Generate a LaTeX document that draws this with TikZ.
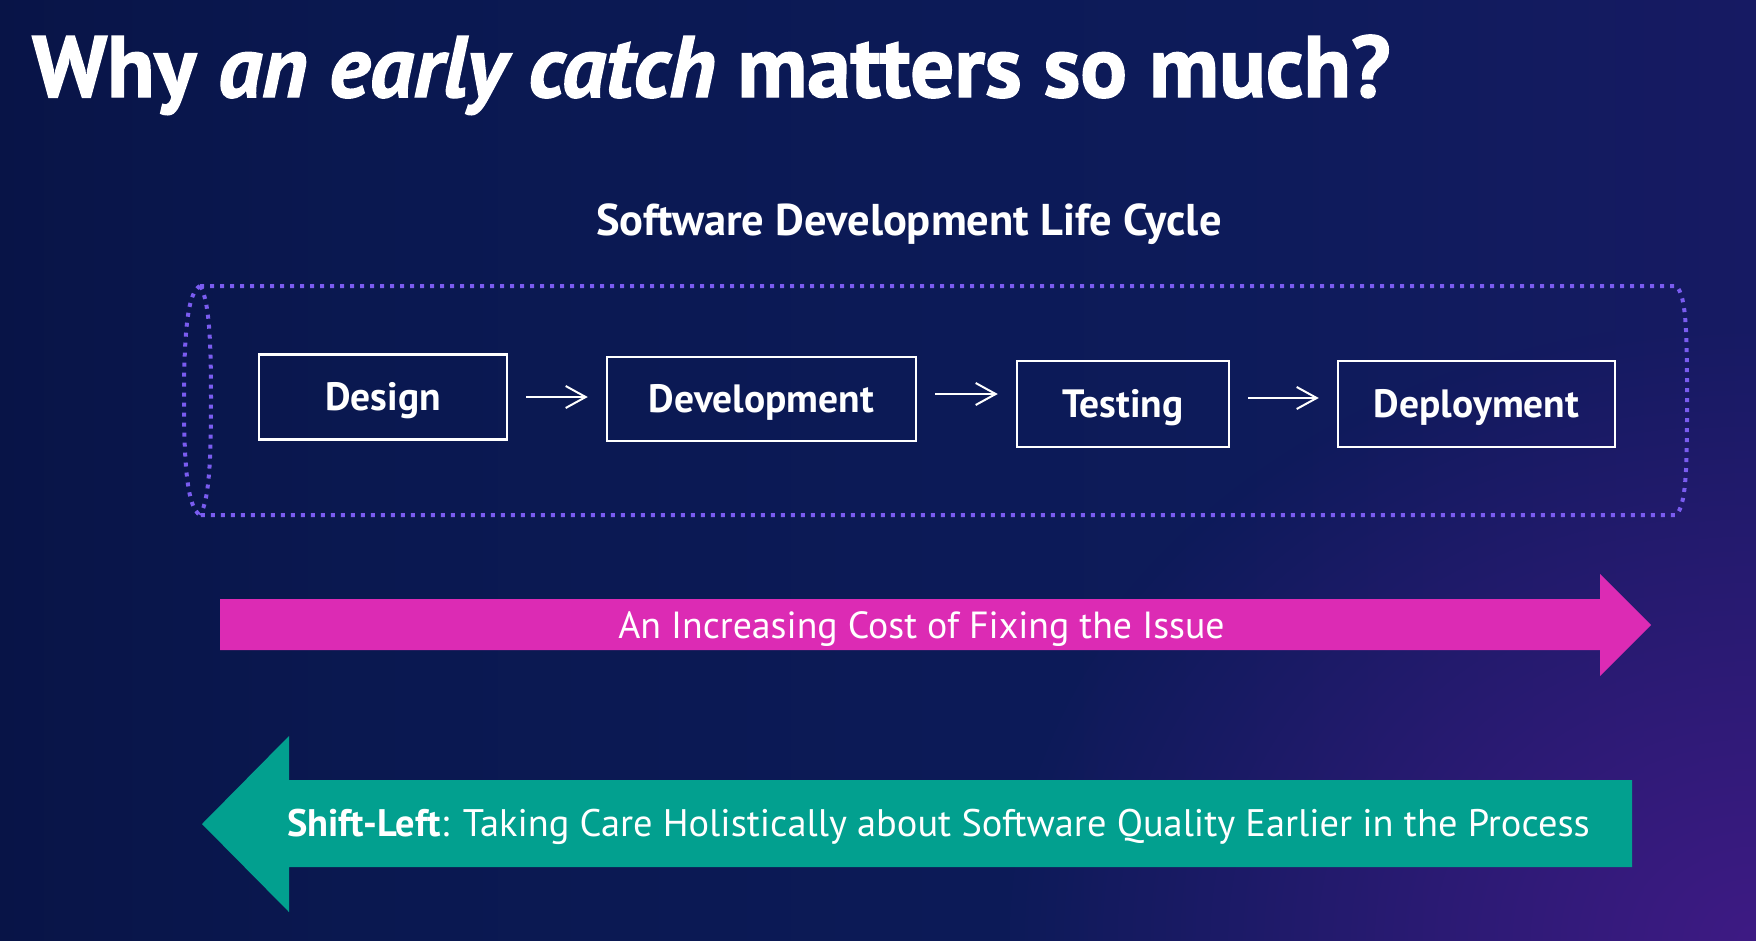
\documentclass[tikz,border=0pt]{standalone}
\usepackage{fontspec}
\setmainfont{PT Sans}
\newfontfamily\titlefont{PT Sans}[BoldFeatures={FakeBold=1.6}, BoldItalicFeatures={FakeBold=1.6}]
\usetikzlibrary{arrows.meta,fadings}
\definecolor{bgleft}{HTML}{040A31}
\definecolor{bgmidA}{HTML}{0A1850}
\definecolor{bgmidB}{HTML}{0D1B5A}
\definecolor{bgmidC}{HTML}{1B1A67}
\definecolor{bgright}{HTML}{2C1A76}
\definecolor{glowpurple}{HTML}{3E1A84}
\definecolor{dotline}{HTML}{7A5CF0}
\definecolor{costpink}{HTML}{DC2BB4}
\definecolor{shiftteal}{HTML}{02A08F}

\pgfdeclarehorizontalshading{slidebg}{100bp}{color(0bp)=(bgleft); color(35bp)=(bgmidA);
  color(60bp)=(bgmidB); color(82bp)=(bgmidC); color(100bp)=(bgright)}
\tikzfading[name=glowfade, inner color=transparent!0, outer color=transparent!100]

\begin{document}
\begin{tikzpicture}[x=1pt,y=-1pt,
  stagebox/.style={draw=white, line width=2.5pt, text=white,
    font=\fontsize{39.5}{44}\selectfont\bfseries,
    text height=27pt, text depth=0pt, inner sep=0pt},
  flow/.style={draw=white, line width=2pt,
    -{Straight Barb[length=20pt,width=22pt]},
    shorten <=18pt, shorten >=18pt},
  frame/.style={draw=dotline, line width=4pt, dash pattern=on 4pt off 6pt},
  plaintext/.style={text=white, inner sep=0pt}
]
\useasboundingbox (0,0) rectangle (1756,940);

% background with a purple glow in the lower right
\shade[shading=slidebg] (0,0) rectangle (1756,940);
\fill[glowpurple, path fading=glowfade, fit fading=true] (1756,940) ellipse (760 and 620);

% title
\node[plaintext, anchor=base west, font=\titlefont\fontsize{87}{92}\selectfont\bfseries]
  (title) at (32,97) {Why \textit{an early catch} matters so much?};

% life cycle heading
\node[plaintext, anchor=base, font=\fontsize{44.5}{50}\selectfont\bfseries]
  (sdlc) at (909,235) {Software Development Life Cycle};

% dotted frame around the stages
\draw[frame] (200,286) -- (1676,286)
  .. controls (1687,295) and (1687,340) .. (1687,400)
  .. controls (1687,460) and (1687,505) .. (1676,515) -- (200,515);
\draw[frame] (200,286) .. controls (188,292) and (184,330) .. (184,400)
  .. controls (184,470) and (188,508) .. (200,515);
\draw[frame] (200,286) .. controls (210,300) and (211,350) .. (211,400)
  .. controls (211,450) and (210,500) .. (200,515);

% stages
\node[stagebox, minimum width=248pt, minimum height=85pt] (design) at (383,397) {Design};
\node[stagebox, minimum width=309pt, minimum height=84pt] (develop) at (761.5,399) {Development};
\node[stagebox, minimum width=212pt, minimum height=86pt] (testing) at (1123,404) {Testing};
\node[stagebox, minimum width=277pt, minimum height=86pt] (deploy) at (1476.5,404) {Deployment};

\draw[flow] (design.east) -- (design.east -| develop.west);
\draw[flow] ([yshift=5pt]develop.east) -- ([yshift=5pt]develop.east -| testing.west);
\draw[flow] ([yshift=6pt]testing.east) -- ([yshift=6pt]testing.east -| deploy.west);

% cost arrow
\fill[costpink] (220,599) -- (1600,599) -- (1600,574) -- (1651,625)
  -- (1600,676) -- (1600,650) -- (220,650) -- cycle;
\node[plaintext, anchor=base, font=\fontsize{37.8}{42}\selectfont]
  (cost) at (921.5,638) {An Increasing Cost of Fixing the Issue};

% shift-left arrow
\fill[shiftteal] (1632,780) -- (289,780) -- (289,736) -- (202,824)
  -- (289,912) -- (289,867) -- (1632,867) -- cycle;
\node[plaintext, anchor=base west, font=\fontsize{38.4}{42}\selectfont]
  (shift) at (287,836) {\textbf{Shift-Left}: Taking Care Holistically about Software Quality Earlier in the Process};
\end{tikzpicture}
\end{document}
